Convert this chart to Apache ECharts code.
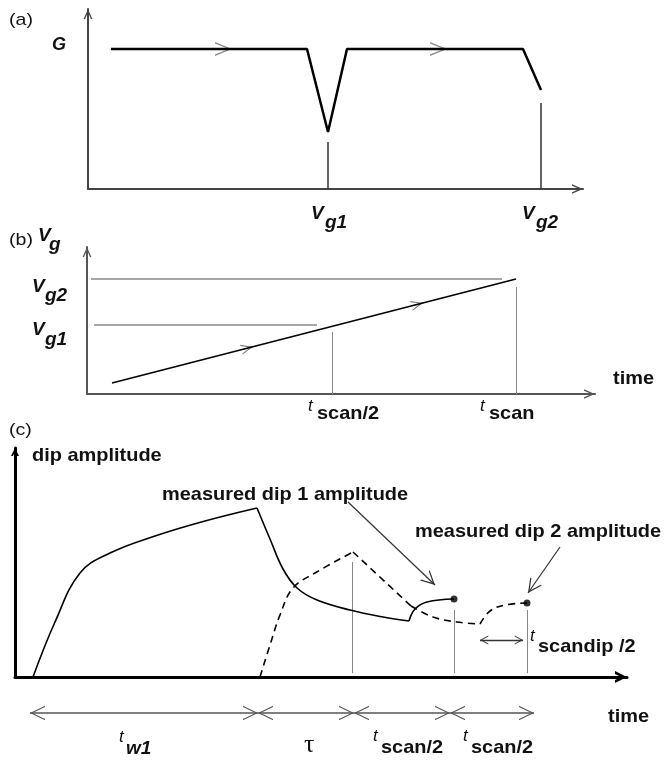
<!DOCTYPE html>
<html>
<head>
<meta charset="utf-8">
<script src="https://cdn.jsdelivr.net/npm/echarts@6/dist/echarts.min.js"></script>
<style>
  html, body { margin: 0; padding: 0; background: #fff; }
  #chart { width: 664px; height: 761px; }
</style>
</head>
<body>
<div id="chart"></div>
<script>
// --- (a) conductance G vs gate voltage (units: panel axis units) ---
var gCurve = [[23, 140], [219, 140], [240, 57], [259, 140], [435, 140], [453, 99]];
var gMarks = [[[240, 47], [240, 0]], [[453, 86], [453, 0]]];
var gArrows = [[[134, 140], [144, 140]], [[349, 140], [359, 140]]];

// --- (b) gate voltage ramp vs time ---
var ramp = [[25, 11], [429, 115]];
var rampLevels = [[[4, 115], [415, 115]], [[7, 69], [230, 69]]];
var rampMarks = [[[245, 62], [245, 0]], [[429, 107], [429, 0]]];
var rampArrows = [[[156, 44.7], [166, 47.3]], [[326, 88.5], [336, 91.1]]];

// --- (c) dip amplitude vs time ---
var dip1Rise = [[18, 0], [40, 55], [65, 104], [95, 124], [140, 141], [190, 156], [242, 169]];
var dip1Decay = [[242, 169], [255, 138], [268, 108], [282, 89], [302, 77], [335, 67], [368, 60], [394, 56]];
var dip1Scan = [[394, 56], [400, 68], [412, 75], [439, 78]];
var dip2Rise = [[245, 0], [255, 32], [265, 62], [278, 89], [300, 104], [338, 125]];
var dip2Fall = [[338, 125], [396, 71]];
var dip2Decay = [[396, 71], [418, 60], [442, 55], [465, 53]];
var dip2Scan = [[465, 53], [475, 66], [490, 72], [512, 74]];
var measured = [[439, 78], [512, 74]];
var cMarks = [[[337, 115], [337, 4]], [[439, 67], [439, 4]], [[512, 67], [512, 4]]];
var leaders = [[[333, 175], [420, 92]], [[545, 130], [513, 84]]];
var halfScanDip = [[[465, 37], [508, 37]]];
var phaseLevel = -36;
var phaseBounds = [15, 243, 339, 435, 519];

var labels = [
  ['(a)', 9, 20, 'p'],
  ['G', 52, 45, 'bi'],
  ['V', 311, 214, 'V'], ['g1', 325, 223, 'sub'],
  ['V', 522, 214, 'V'], ['g2', 536, 223, 'sub'],
  ['(b)', 9, 240, 'p'],
  ['V', 38, 236, 'V'], ['g', 49, 245, 'sub'],
  ['V', 32, 287, 'V'], ['g2', 45, 296, 'sub'],
  ['V', 32, 330, 'V'], ['g1', 45, 340, 'sub'],
  ['time', 613, 379, 'b'],
  ['t', 308, 406, 't'], ['scan/2', 317, 414, 'b'],
  ['t', 480, 406, 't'], ['scan', 489, 414, 'b'],
  ['(c)', 9, 430, 'p'],
  ['dip amplitude', 32, 456, 'b'],
  ['measured dip 1 amplitude', 162, 495, 'b'],
  ['measured dip 2 amplitude', 415, 532, 'b'],
  ['t', 530, 636, 't'], ['scandip /2', 538, 647, 'b'],
  ['time', 608, 717, 'b'],
  ['t', 119, 737, 't'], ['w1', 126, 749, 'sub'],
  ['\u03c4', 304, 745, 'tau'],
  ['t', 373, 736, 't'], ['scan/2', 381, 748, 'b'],
  ['t', 463, 736, 't'], ['scan/2', 471, 748, 'b']
];

var FONT = 'Liberation Sans, Arial, sans-serif';
var fonts = {
  p: { font: 'normal 17px ' + FONT, sx: 1.15 },
  bi: { font: 'italic bold 18px ' + FONT, sx: 1 },
  V: { font: 'italic bold 19px ' + FONT, sx: 1 },
  sub: { font: 'italic bold 19px ' + FONT, sx: 1 },
  b: { font: 'bold 19px ' + FONT, sx: 1.05 },
  t: { font: 'italic 17px ' + FONT, sx: 1 },
  tau: { font: 'normal 26px Liberation Serif, serif', sx: 1 }
};

// open chevron pointing up, tip at the centre of its square box
function chevron(w, h, t) {
  var yi = 2 * t * h / w;
  return 'path://M50,0L' + (50 + w / 2) + ',' + h + 'L' + (50 + w / 2 - t) + ',' + h +
    'L50,' + yi + 'L' + (50 - w / 2 + t) + ',' + h + 'L' + (50 - w / 2) + ',' + h +
    'ZM0,-50L0.01,-50M100,50L99.99,50';
}

function axes(idx, xmax, ymax, color, width, arrowX, sizeX, arrowY, sizeY) {
  function one(max, arrow, size) {
    return {
      gridIndex: idx, type: 'value', min: 0, max: max,
      axisLine: { show: true, onZero: false, lineStyle: { color: color, width: width },
        symbol: ['none', arrow], symbolSize: [size, size] },
      axisTick: { show: false }, axisLabel: { show: false }, splitLine: { show: false }
    };
  }
  return { x: one(xmax, arrowX, sizeX), y: one(ymax, arrowY, sizeY) };
}

function segs(idx, list, color, width, sym, size, both, z) {
  return {
    type: 'lines', coordinateSystem: 'cartesian2d', xAxisIndex: idx, yAxisIndex: idx,
    clip: false, silent: true, z: z || 2,
    symbol: sym ? (both ? [sym, sym] : ['none', sym]) : 'none', symbolSize: size || 10,
    lineStyle: { color: color, width: width, opacity: 1, curveness: 0 },
    data: list.map(function (s) { return { coords: s }; })
  };
}

function curve(idx, data, width, smooth, dashed) {
  return {
    type: 'line', xAxisIndex: idx, yAxisIndex: idx, data: data, symbol: 'none',
    clip: false, silent: true, z: 3, smooth: smooth || false,
    lineStyle: { color: '#000', width: width, type: dashed ? [7, 5] : 'solid' }
  };
}

var thinAxis = chevron(44, 50, 7);
var thickAxis = chevron(50, 50, 12);
var a0 = axes(0, 495, 180, '#444', 2, thinAxis, 22, thinAxis, 20);
var a1 = axes(1, 508, 147, '#555', 2, thinAxis, 22, thinAxis, 20);
var a2 = axes(2, 612, 229, '#000', 3, thickAxis, 24, thickAxis, 16);

var phases = [];
for (var i = 0; i < phaseBounds.length - 1; i++) {
  phases.push([[phaseBounds[i], phaseLevel], [phaseBounds[i + 1], phaseLevel]]);
}

var graphics = labels.map(function (l) {
  var f = fonts[l[3]];
  return {
    type: 'text', x: l[1], y: l[2], scaleX: f.sx, silent: true,
    style: { text: l[0], font: f.font, fill: '#111', align: 'left', verticalAlign: 'middle',
      textAlign: 'left', textVerticalAlign: 'middle' }
  };
});

var chart = echarts.init(document.getElementById('chart'), null, { renderer: 'canvas' });
chart.setOption({
  animation: false,
  backgroundColor: '#fff',
  grid: [
    { left: 88, top: 9, width: 495, height: 180, outerBoundsMode: 'none' },
    { left: 87, top: 247, width: 508, height: 147, outerBoundsMode: 'none' },
    { left: 15, top: 448, width: 612, height: 229, outerBoundsMode: 'none' }
  ],
  xAxis: [a0.x, a1.x, a2.x],
  yAxis: [a0.y, a1.y, a2.y],
  series: [
    // (a)
    curve(0, gCurve, 2.5),
    segs(0, gMarks, '#333', 1.5),
    segs(0, gArrows, '#888', 1, chevron(41, 50, 4), 34),
    // (b)
    curve(1, ramp, 1.6),
    segs(1, rampLevels, '#888', 1.5),
    segs(1, rampMarks, '#888', 1),
    segs(1, rampArrows, '#777', 1, chevron(42, 50, 5), 24),
    // (c)
    curve(2, dip1Rise, 1.6, 0.4),
    curve(2, dip1Decay, 1.6, 0.4),
    curve(2, dip1Scan, 1.6, 0.4),
    curve(2, dip2Rise, 1.6, 0.4, true),
    curve(2, dip2Fall, 1.6, false, true),
    curve(2, dip2Decay, 1.6, 0.4, true),
    curve(2, dip2Scan, 1.6, 0.4, true),
    {
      type: 'scatter', xAxisIndex: 2, yAxisIndex: 2, data: measured, symbolSize: 7,
      itemStyle: { color: '#000' }, silent: true, z: 4
    },
    segs(2, cMarks, '#888', 1),
    segs(2, leaders, '#333', 1.2, chevron(50, 50, 5), 28),
    segs(2, halfScanDip, '#333', 1.3, chevron(50, 46, 6), 18, true),
    segs(2, phases, '#555', 1.5, chevron(48, 50, 4), 30, true)
  ],
  graphic: graphics
});
window.addEventListener('resize', function () { chart.resize(); });
</script>
</body>
</html>
